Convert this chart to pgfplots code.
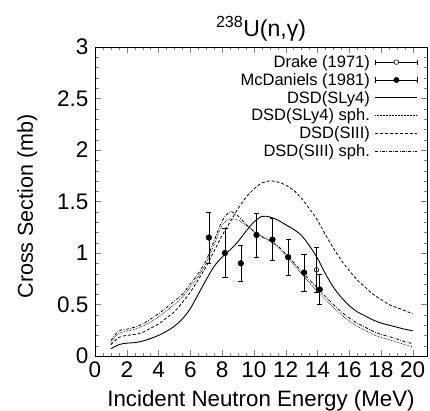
\documentclass[border=0pt]{standalone}
\usepackage{pgfplots}
\pgfplotsset{compat=1.18}
\usepackage{fontspec}
\setmainfont{Liberation Sans}
\newcommand{\lf}{\fontsize{16.5}{18}\selectfont}
\begin{document}
\begin{tikzpicture}
\begin{axis}[
  name=ax,
  scale only axis, width=332pt, height=309pt,
  xmin=0, xmax=20.9, ymin=0, ymax=3,
  xtick={0,2,...,20}, minor x tick num=3,
  ytick={0,0.5,1,1.5,2,2.5,3}, minor y tick num=4,
  yticklabels={0,0.5,1,1.5,2,2.5,3},
  tick align=inside,
  major tick length=6pt, minor tick length=3.5pt,
  /pgf/number format/assume math mode=true,
  tick label style={font=\fontsize{22.5}{24}\selectfont},
  xticklabel style={yshift=-2pt},
  yticklabel style={xshift=-3pt},
  xlabel={Incident Neutron Energy (MeV)},
  ylabel={Cross Section (mb)},
  xlabel style={font=\fontsize{22.3}{24}\selectfont, at={(axis description cs:0.5,-0.162)}, anchor=base},
  ylabel style={font=\fontsize{21.5}{24}\selectfont, at={(axis description cs:-0.187,0.484)}, anchor=base},
  title={\textsuperscript{238}U(n,γ)},
  title style={font=\fontsize{23}{24}\selectfont, at={(axis description cs:0.5,1.016)}, anchor=base},
  legend style={draw=none, fill=none, at={(axis description cs:1,1)}, anchor=north east,
    xshift=-9pt, yshift=-6pt, inner sep=0pt, row sep=0pt,
    nodes={inner ysep=2.2pt, inner xsep=5pt}},
  legend cell align=right,
  legend plot pos=right,
  legend image code/.code={\draw[#1] (0pt,0pt)--(42pt,0pt);},
]
% Drake (1971)
\addplot[black, only marks, mark=o, mark size=2.3pt, line width=0.6pt,
  legend image code/.code={
    \draw[black, line width=0.6pt] (0pt,0pt)--(42pt,0pt);
    \draw[black, line width=0.6pt] (0pt,-2.6pt)--(0pt,2.6pt);
    \draw[black, line width=0.6pt] (42pt,-2.6pt)--(42pt,2.6pt);
    \draw[black, line width=0.6pt, fill=white] (21pt,0pt) circle (2.3pt);},
  error bars/.cd, y dir=both, y explicit, error bar style={line width=0.6pt},
  error mark options={rotate=90, mark size=2.6pt, line width=0.6pt}]
  coordinates {(13.94,0.837) +- (0,0.22)};
\addlegendentry{\lf Drake (1971)}
% McDaniels (1981)
\addplot[black, only marks, mark=*, mark size=2.8pt, line width=0.6pt,
  legend image code/.code={
    \draw[black, line width=0.6pt] (0pt,0pt)--(42pt,0pt);
    \draw[black, line width=0.6pt] (0pt,-2.6pt)--(0pt,2.6pt);
    \draw[black, line width=0.6pt] (42pt,-2.6pt)--(42pt,2.6pt);
    \fill[black] (21pt,0pt) circle (2.6pt);},
  error bars/.cd, y dir=both, y explicit, error bar style={line width=0.6pt},
  error mark options={rotate=90, mark size=2.6pt, line width=0.6pt}]
  coordinates {
  (7.17,1.15) +- (0,0.25)
  (8.18,1.00) +- (0,0.235)
  (9.18,0.90) +- (0,0.175)
  (10.17,1.175) +- (0,0.215)
  (11.17,1.13) +- (0,0.205)
  (12.16,0.96) +- (0,0.175)
  (13.16,0.81) +- (0,0.18)
  (14.15,0.646) +- (0,0.145)
  };
\addlegendentry{\lf McDaniels (1981)}
% SLy4
\addplot[black, line width=0.9pt, smooth] coordinates {
(1,0.07)(1.5,0.11)(2,0.125)(2.5,0.13)(3,0.145)(3.5,0.17)(4,0.2)(4.5,0.24)(5,0.29)(5.5,0.36)(6,0.46)(6.5,0.6)(7,0.74)(7.5,0.87)(8,0.96)(8.5,1.03)(9,1.11)(9.5,1.21)(10,1.30)(10.5,1.355)(11,1.35)(11.5,1.32)(12,1.275)(12.5,1.23)(13,1.17)(13.5,1.07)(14,0.95)(14.5,0.8)(15,0.67)(15.5,0.57)(16,0.49)(16.5,0.43)(17,0.39)(17.5,0.35)(18,0.32)(18.5,0.30)(19,0.28)(19.5,0.26)(20,0.245)};
\addlegendentry{\lf DSD(SLy4)}
% SLy4 sph
\addplot[black, line width=0.7pt, smooth, dash pattern=on 0.6pt off 0.9pt] coordinates {
(1,0.13)(1.5,0.22)(2,0.24)(2.5,0.26)(3,0.29)(3.5,0.33)(4,0.38)(4.5,0.44)(5,0.50)(5.5,0.57)(6,0.67)(6.5,0.77)(7,0.9)(7.5,1.08)(8,1.27)(8.5,1.33)(9,1.32)(9.5,1.27)(10,1.21)(10.5,1.16)(11,1.12)(11.5,1.06)(12,0.98)(12.5,0.89)(13,0.80)(13.5,0.71)(14,0.63)(14.5,0.55)(15,0.47)(15.5,0.40)(16,0.34)(16.5,0.29)(17,0.25)(17.5,0.21)(18,0.18)(18.5,0.16)(19,0.135)(19.5,0.11)(20,0.09)};
\addlegendentry{\lf DSD(SLy4) sph.}
% SIII
\addplot[black, line width=0.8pt, smooth, dash pattern=on 3pt off 2pt] coordinates {
(1,0.11)(1.5,0.18)(2,0.2)(2.5,0.21)(3,0.23)(3.5,0.27)(4,0.31)(4.5,0.37)(5,0.43)(5.5,0.52)(6,0.62)(6.5,0.74)(7,0.87)(7.5,1.02)(8,1.17)(8.5,1.30)(9,1.43)(9.5,1.54)(10,1.62)(10.5,1.68)(11,1.70)(11.5,1.69)(12,1.66)(12.5,1.61)(13,1.53)(13.5,1.43)(14,1.32)(14.5,1.18)(15,1.05)(15.5,0.93)(16,0.83)(16.5,0.74)(17,0.67)(17.5,0.60)(18,0.55)(18.5,0.50)(19,0.47)(19.5,0.44)(20,0.41)};
\addlegendentry{\lf DSD(SIII)}
% SIII sph
\addplot[black, line width=0.8pt, smooth, dash pattern=on 3pt off 1.5pt on 0.6pt off 1.5pt] coordinates {
(1,0.15)(1.5,0.245)(2,0.26)(2.5,0.28)(3,0.31)(3.5,0.36)(4,0.41)(4.5,0.47)(5,0.535)(5.5,0.6)(6,0.70)(6.5,0.8)(7,0.93)(7.5,1.12)(8,1.31)(8.5,1.40)(9,1.36)(9.5,1.28)(10,1.21)(10.5,1.16)(11,1.12)(11.5,1.07)(12,0.99)(12.5,0.91)(13,0.82)(13.5,0.74)(14,0.66)(14.5,0.58)(15,0.50)(15.5,0.43)(16,0.37)(16.5,0.32)(17,0.28)(17.5,0.24)(18,0.21)(18.5,0.19)(19,0.165)(19.5,0.14)(20,0.12)};
\addlegendentry{\lf DSD(SIII) sph.}
\end{axis}
\pgfresetboundingbox
\path[use as bounding box] ([shift={(-95pt,-54pt)}]ax.south west) rectangle ([shift={(3pt,47pt)}]ax.north east);
\end{tikzpicture}
\end{document}
